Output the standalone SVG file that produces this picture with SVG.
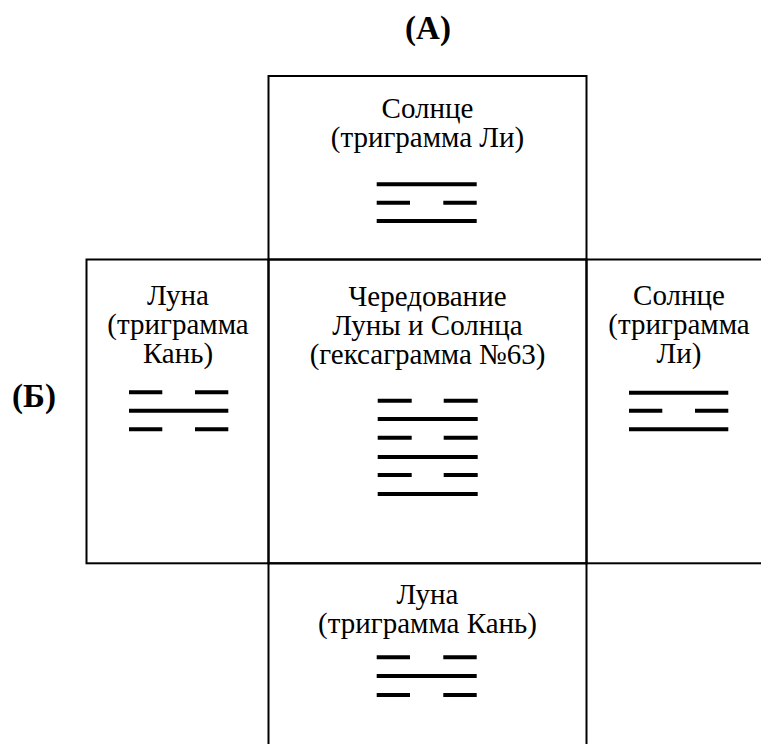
<svg xmlns="http://www.w3.org/2000/svg" width="761" height="744" viewBox="0 0 761 744">
<defs>
<style>
.box{fill:none;stroke:#000;stroke-width:2}
.t{font-family:"Liberation Serif","Times New Roman",serif;font-size:29px;fill:#000;text-anchor:middle}
.lbl{font-family:"Liberation Serif","Times New Roman",serif;font-size:33px;font-weight:bold;fill:#000;text-anchor:middle}
.ln{stroke:#000;stroke-width:4;fill:none}
</style>
</defs>
<rect width="761" height="744" fill="#fff"/>
<text class="lbl" x="428" y="39">(А)</text>
<text class="lbl" x="34" y="407">(Б)</text>
<g id="top">
<rect class="box" x="268.5" y="76" width="318" height="183.5"/>
<text class="t" x="427.5" y="118">Солнце</text>
<text class="t" x="427.5" y="147">(триграмма Ли)</text>
<path class="ln" d="M376.7 184.3H476.7M376.7 202.7H410M443.3 202.7H476.7M376.7 221H476.7"/>
</g>
<g id="left">
<rect class="box" x="86.5" y="259.5" width="182" height="303.8"/>
<text class="t" x="178" y="305">Луна</text>
<text class="t" x="178" y="334">(триграмма</text>
<text class="t" x="178" y="363">Кань)</text>
<path class="ln" d="M129 392.3H162.3M195 392.3H228.3M129 410.7H228.3M129 429.3H162.3M195 429.3H228.3"/>
</g>
<g id="center">
<rect class="box" x="268.5" y="259.5" width="318" height="303.8"/>
<text class="t" x="427.5" y="306">Чередование</text>
<text class="t" x="427.5" y="335">Луны и Солнца</text>
<text class="t" x="427.5" y="364">(гексаграмма №63)</text>
<path class="ln" d="M377.7 400.7H411.7M443.7 400.7H477.7M377.7 419H477.7M377.7 437.7H411.7M443.7 437.7H477.7M377.7 457H477.7M377.7 475H411.7M443.7 475H477.7M377.7 494H477.7"/>
</g>
<g id="right">
<rect class="box" x="586.5" y="259.5" width="190" height="303.8"/>
<text class="t" x="679" y="305">Солнце</text>
<text class="t" x="679" y="334">(триграмма</text>
<text class="t" x="679" y="363">Ли)</text>
<path class="ln" d="M629 392.7H728.3M629 410.7H662.3M695 410.7H728.3M629 429.3H728.3"/>
</g>
<g id="bottom">
<rect class="box" x="268.5" y="563.3" width="318" height="200"/>
<text class="t" x="427.5" y="604">Луна</text>
<text class="t" x="427.5" y="633">(триграмма Кань)</text>
<path class="ln" d="M376.7 657.3H410M443.3 657.3H476.7M376.7 676H476.7M376.7 695H410M443.3 695H476.7"/>
</g>
</svg>
